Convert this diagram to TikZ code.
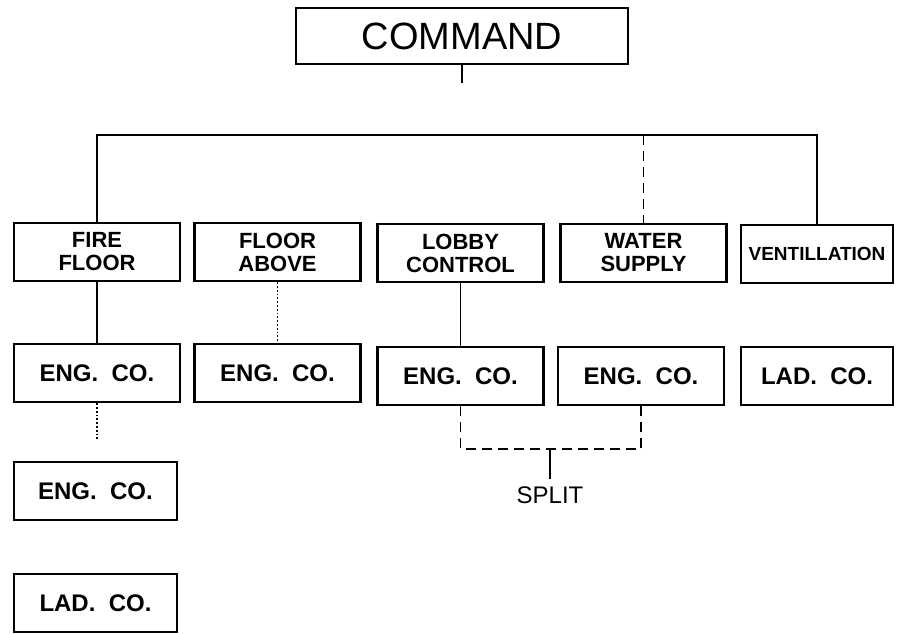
\documentclass[tikz,border=0pt]{standalone}
\usepackage{fontspec}
\setmainfont{Liberation Sans}
\usetikzlibrary{positioning}

\begin{document}
\begin{tikzpicture}[
    x=0.5pt, y=-0.5pt,
    unit/.style={rectangle, draw=black, line width=1.1pt, minimum width=83pt, minimum height=29pt, inner sep=1pt, align=center, font=\fontsize{11}{11.5}\selectfont\bfseries},
    head/.style={rectangle, draw=black, line width=1.1pt, minimum width=166pt, minimum height=28pt, font=\fontsize{19}{22}\selectfont},
    link/.style={line width=0.9pt},
    weak/.style={line width=0.9pt, dashed, dash pattern=on 5pt off 3pt},
    dots/.style={line width=0.9pt, densely dotted}
]
    \useasboundingbox (0,0) rectangle (898,633);

    % Command
    \node[head] (command) at (462,36) {COMMAND};

    % Sectors
    \node[unit] (fire) at (97,252) {FIRE\\FLOOR};
    \node[unit] (above) at (277.5,252) {FLOOR\\ABOVE};
    \node[unit] (lobby) at (460.5,253) {LOBBY\\CONTROL};
    \node[unit] (water) at (643.5,253) {WATER\\SUPPLY};
    \node[unit, minimum width=76pt, font=\fontsize{9.5}{11}\selectfont\bfseries] (vent) at (817,254) {VENTILLATION};

    % Companies
    \node[unit, font=\fontsize{12}{13}\selectfont\bfseries] (fireeng) at (97,373) {ENG.~~CO.};
    \node[unit, font=\fontsize{12}{13}\selectfont\bfseries] (aboveeng) at (277.5,373) {ENG.~~CO.};
    \node[unit, font=\fontsize{12}{13}\selectfont\bfseries] (lobbyeng) at (460.5,376) {ENG.~~CO.};
    \node[unit, font=\fontsize{12}{13}\selectfont\bfseries] (watereng) at (641,376) {ENG.~~CO.};
    \node[unit, minimum width=76pt, font=\fontsize{12}{13}\selectfont\bfseries] (ventlad) at (817,376) {LAD.~~CO.};
    \node[unit, minimum width=81.5pt, font=\fontsize{12}{13}\selectfont\bfseries] (fireeng2) at (95.5,491) {ENG.~~CO.};
    \node[unit, minimum width=81.5pt, font=\fontsize{12}{13}\selectfont\bfseries] (firelad) at (95.5,603) {LAD.~~CO.};

    % Split label
    \node[font=\fontsize{12}{13}\selectfont] (split) at (550,495) {SPLIT};

    % Top bar
    \coordinate (barfire) at (fire.north |- 0,135);
    \coordinate (barwater) at (water.north |- 0,135);
    \coordinate (barvent) at (vent.north |- 0,135);
    \coordinate (cmdstub) at ([yshift=-9pt]command.south);
    \draw[link] (command.south) -- (cmdstub);
    \draw[link] (fire.north) -- (barfire) -- (barvent) -- (vent.north);
    \draw[weak] (barwater) -- (water.north);

    % Down lines
    \draw[link] (fire.south) -- (fireeng.north);
    \draw[dots] (above.south) -- (aboveeng.north);
    \draw[link] (lobby.south) -- (lobbyeng.north);
    \coordinate (firegap) at ([yshift=-18pt]fireeng.south);
    \draw[dots] (fireeng.south) -- (firegap);

    % Split
    \coordinate (splitbar) at (550,449);
    \draw[weak] (lobbyeng.south) |- (splitbar) -| (watereng.south);
    \draw[link] (splitbar) -- (split.north);

\end{tikzpicture}
\end{document}
